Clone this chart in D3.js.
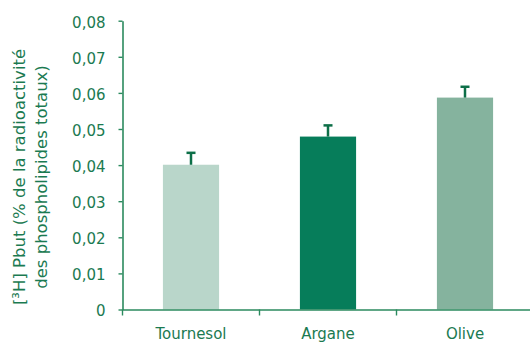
<!DOCTYPE html>
<html>
<head>
<meta charset="utf-8">
<script src="https://cdn.jsdelivr.net/npm/d3@7"></script>
<style>
  html, body { margin: 0; padding: 0; background: #fff; }
  svg text { font-family: "DejaVu Sans", Verdana, sans-serif; fill: #1b7a51; }
</style>
</head>
<body>
<svg id="chart" width="530" height="343"></svg>
<script>
// Huiles testées et radioactivité du [3H] Pbut
const categories = ["Tournesol", "Argane", "Olive"];
const values = [0.0401, 0.0479, 0.0587];
const errors = [0.0033, 0.0031, 0.0030];
const barColors = ["#b9d6ca", "#067d5a", "#85b39e"];
const yTicks = [0, 0.01, 0.02, 0.03, 0.04, 0.05, 0.06, 0.07, 0.08];

const axisColor = "#2b8a5e";
const errColor = "#0d6f48";

const svg = d3.select("#chart");

const plot = { left: 122.5, right: 533.5, top: 20.7, bottom: 309.5 };

const y = d3.scaleLinear().domain([0, 0.08]).range([plot.bottom, plot.top]);

// band positions for the category boundaries
const xAxisScale = d3.scaleBand().domain(categories).range([plot.left, plot.right]).padding(0);
// narrower bands for the bars, centred in each step
const x = d3.scaleBand().domain(categories).range([plot.left, plot.right])
  .paddingInner(0.59).paddingOuter(0.295);

// bars
svg.append("g").selectAll("rect")
  .data(categories)
  .join("rect")
  .attr("x", d => x(d))
  .attr("width", x.bandwidth())
  .attr("y", (d, i) => y(values[i]))
  .attr("height", (d, i) => y(0) - y(values[i]))
  .attr("fill", (d, i) => barColors[i]);

// error bars (upper only)
const eb = svg.append("g").selectAll("g")
  .data(categories)
  .join("g");
eb.append("line")
  .attr("x1", d => x(d) + x.bandwidth() / 2)
  .attr("x2", d => x(d) + x.bandwidth() / 2)
  .attr("y1", (d, i) => y(values[i]))
  .attr("y2", (d, i) => y(values[i] + errors[i]))
  .attr("stroke", errColor)
  .attr("stroke-width", 2.5);
eb.append("line")
  .attr("x1", d => x(d) + x.bandwidth() / 2 - 4.5)
  .attr("x2", d => x(d) + x.bandwidth() / 2 + 4.5)
  .attr("y1", (d, i) => y(values[i] + errors[i]))
  .attr("y2", (d, i) => y(values[i] + errors[i]))
  .attr("stroke", errColor)
  .attr("stroke-width", 2.5);

// y axis
const yAxis = d3.axisLeft(y)
  .tickValues(yTicks)
  .tickSizeInner(4)
  .tickSizeOuter(0)
  .tickPadding(13)
  .tickFormat(d => d === 0 ? "0" : d3.format(".2f")(d).replace(".", ","));

const gy = svg.append("g")
  .attr("transform", `translate(${plot.left},0)`)
  .call(yAxis);
gy.select(".domain").attr("stroke", axisColor).attr("stroke-width", 1.6);
gy.selectAll(".tick line").attr("stroke", axisColor).attr("stroke-width", 1.4);
gy.selectAll(".tick text").attr("font-size", 15).attr("fill", "#1b7a51").attr("dy", "0.42em");

// x axis
const xAxis = d3.axisBottom(xAxisScale)
  .tickValues([])
  .tickSizeOuter(0);
const gx = svg.append("g")
  .attr("transform", `translate(0,${plot.bottom})`)
  .call(xAxis);
gx.select(".domain").attr("stroke", axisColor).attr("stroke-width", 1.6);

// boundary ticks between categories
gx.selectAll("line.sep")
  .data(categories)
  .join("line")
  .attr("class", "sep")
  .attr("x1", d => xAxisScale(d))
  .attr("x2", d => xAxisScale(d))
  .attr("y1", 0)
  .attr("y2", 6)
  .attr("stroke", axisColor)
  .attr("stroke-width", 1.4);

// category labels
svg.append("g").selectAll("text")
  .data(categories)
  .join("text")
  .attr("x", d => xAxisScale(d) + xAxisScale.bandwidth() / 2)
  .attr("y", 339)
  .attr("text-anchor", "middle")
  .attr("font-size", 15)
  .text(d => d);

// y axis title
const title = svg.append("text")
  .attr("transform", "translate(0,177) rotate(-90)")
  .attr("text-anchor", "middle")
  .attr("font-size", 16.5);
title.append("tspan").attr("x", 0).attr("y", 25).text("[³H] Pbut  (% de la radioactivité");
title.append("tspan").attr("x", 0).attr("y", 47).text("des phospholipides totaux)");
</script>
</body>
</html>
